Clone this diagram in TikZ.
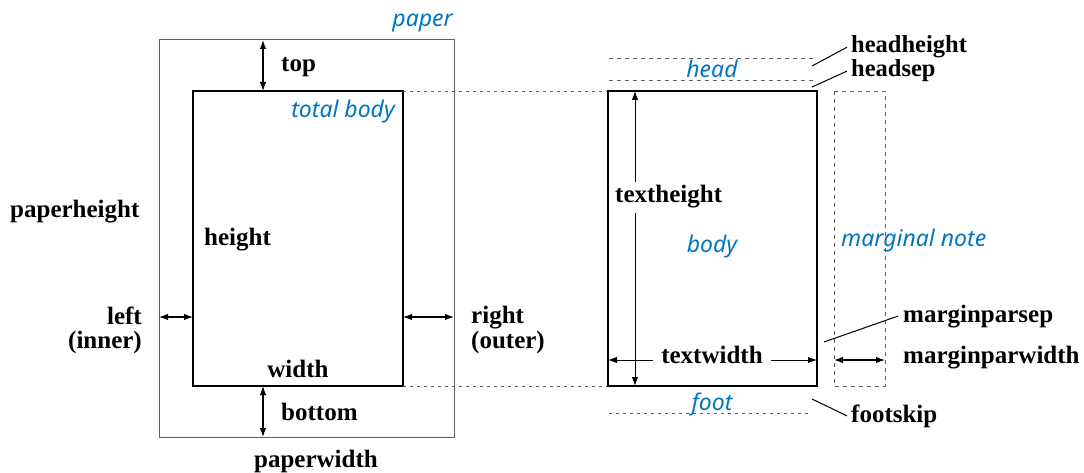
\documentclass[tikz,border=0pt]{standalone}
\usepackage{fontspec}
\setmainfont{Liberation Serif}
\newfontfamily\bluefont{Noto Sans}
\usetikzlibrary{arrows.meta}
\definecolor{lblue}{RGB}{0,118,190}
\definecolor{pgrey}{RGB}{95,95,95}
\begin{document}
\begin{tikzpicture}[x=1pt,y=-1pt,
  >={Latex[length=9pt,width=6.5pt]},
  lab/.style={font=\fontsize{25}{26}\selectfont\bfseries, inner sep=0pt},
  blab/.style={font=\fontsize{23}{24}\selectfont\bluefont\itshape, text=lblue, inner sep=0pt},
  dim/.style={line width=1.2pt, <->},
  thindim/.style={line width=1pt, <->},
  guide/.style={line width=0.8pt, dash pattern=on 3pt off 4pt, pgrey},
  hguide/.style={line width=0.9pt, dash pattern=on 4pt off 4pt, pgrey},
  conn/.style={line width=1pt},
  gapfill/.style={fill=white, inner xsep=8pt, inner ysep=3pt}]
\useasboundingbox (0,0) rectangle (1084,473);

% ---------- left: paper and total body ----------
\coordinate (pTL) at (159,40);
\coordinate (pBR) at (454,437);
\coordinate (bTL) at (193,91);
\coordinate (bBR) at (403,386);
\draw[pgrey, line width=1pt] (pTL) rectangle (pBR);
\draw[line width=2pt] (bTL) rectangle (bBR);

\node[blab, anchor=base east] (paper) at (453,27) {paper};
\node[blab, anchor=base east] (totalbody) at (395,118) {total body};

\coordinate (topA) at (263,40);
\coordinate (topB) at (263,91);
\draw[dim] (topA) -- (topB);
\node[lab, anchor=base west] (top) at (281,72) {top};

\coordinate (botA) at (263,386);
\coordinate (botB) at (263,437);
\draw[dim] (botA) -- (botB);
\node[lab, anchor=base west] (bottom) at (281,420) {bottom};

\coordinate (leftA) at (159,317);
\coordinate (leftB) at (193,317);
\draw[dim] (leftA) -- (leftB);
\node[lab, anchor=base east] (left) at (142,324) {left};
\node[lab, anchor=base east] (inner) at (142,348) {(inner)};

\coordinate (rightA) at (403,317);
\coordinate (rightB) at (454,317);
\draw[dim] (rightA) -- (rightB);
\node[lab, anchor=base west] (right) at (471,323) {right};
\node[lab, anchor=base west] (outer) at (471,348) {(outer)};

\node[lab, anchor=base] (width) at (298,377) {width};
\node[lab, anchor=base west] (height) at (204,245) {height};
\node[lab, anchor=base west] (paperheight) at (10,218) {paperheight};
\node[lab, anchor=base] (paperwidth) at (316,467) {paperwidth};

% ---------- connecting guides ----------
\coordinate (tR) at (608,91);
\coordinate (bR) at (608,386);
\draw[guide] (bTL -| bBR) -- (tR);
\draw[guide] (bBR) -- (bR);

% ---------- right: body ----------
\coordinate (rTL) at (608,91);
\coordinate (rBR) at (817,386);
\draw[line width=2pt] (rTL) rectangle (rBR);

\coordinate (h1A) at (609,58);
\coordinate (h1B) at (813,58);
\coordinate (h2A) at (609,80);
\coordinate (h2B) at (813,80);
\draw[hguide] (h1A) -- (h1B);
\draw[hguide] (h2A) -- (h2B);
\node[blab, anchor=base] (head) at (712,78) {head};

\coordinate (fA) at (609,413);
\coordinate (fB) at (812,413);
\draw[guide] (fA) -- (fB);
\node[blab, anchor=base] (foot) at (712,410) {foot};

\node[blab, anchor=base] (body) at (712,252) {body};

% marginal note box
\coordinate (mTL) at (834,91);
\coordinate (mBR) at (885,386);
\draw[hguide] (mTL) rectangle (mBR);
\node[blab, anchor=base west] (marginal) at (841,246) {marginal note};

% textheight
\coordinate (thA) at (635,91);
\coordinate (thB) at (635,386);
\draw[thindim] (thA) -- (thB);
\node[lab, anchor=base west, fill=white, inner xsep=2pt, inner ysep=4pt] (textheight) at (613,203) {textheight};

% textwidth
\coordinate (twA) at (608,360);
\coordinate (twB) at (817,360);
\draw[thindim] (twA) -- (twB);
\node[lab, anchor=base, gapfill] (textwidth) at (712,363) {textwidth};

% marginparwidth
\coordinate (mwA) at (834,360);
\coordinate (mwB) at (885,360);
\draw[dim] (mwA) -- (mwB);
\node[lab, anchor=base west] (marginparwidth) at (903,363) {marginparwidth};

% labels with connectors
\node[lab, anchor=base west, font=\fontsize{24.5}{25}\selectfont\bfseries] (headheight) at (851,53) {headheight};
\node[lab, anchor=base west, font=\fontsize{24.5}{25}\selectfont\bfseries] (headsep) at (851,77) {headsep};
\node[lab, anchor=base west] (marginparsep) at (903,322) {marginparsep};
\node[lab, anchor=base west] (footskip) at (851,422) {footskip};

\coordinate (cHH) at (812,66);
\coordinate (cHS) at (812,87);
\coordinate (cMS) at (824,342);
\coordinate (cFS) at (812,399);
\draw[conn] (cHH) -- ([xshift=-4pt]headheight.west);
\draw[conn] (cHS) -- ([xshift=-4pt]headsep.west);
\draw[conn] (cMS) -- ([xshift=-5pt]marginparsep.west);
\draw[conn] (cFS) -- ([xshift=-4pt]footskip.west);
\end{tikzpicture}
\end{document}
